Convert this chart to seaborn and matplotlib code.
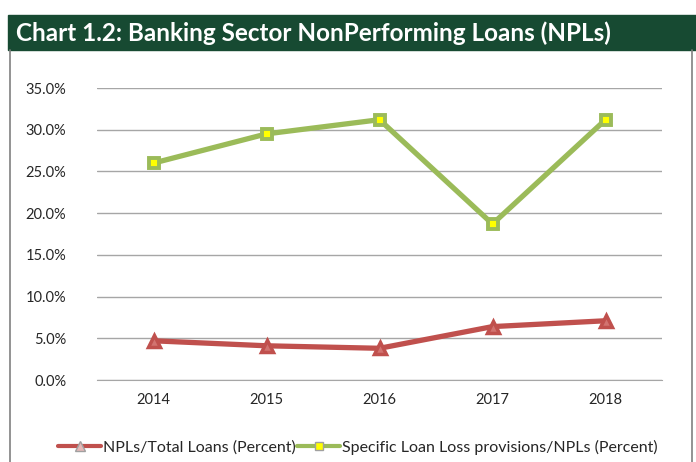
import matplotlib
matplotlib.use("Agg")
import matplotlib.pyplot as plt
import seaborn as sns
import pandas as pd
from matplotlib.patches import Rectangle
from matplotlib.lines import Line2D
from matplotlib.ticker import FuncFormatter

# Data (percent)
years = ["2014", "2015", "2016", "2017", "2018"]
npl_ratio = [4.7, 4.1, 3.8, 6.4, 7.1]
provisions_ratio = [26.0, 29.5, 31.2, 18.7, 31.2]

npl_label = "NPLs/Total Loans (Percent)"
prov_label = "Specific Loan Loss provisions/NPLs (Percent)"

red = "#c0504d"
green = "#9bbb59"

sns.set_style("white")
plt.rcParams["font.family"] = ["Lato", "DejaVu Sans"]

W, H = 696, 462
fig = plt.figure(figsize=(W / 100, H / 100), dpi=100)


def fx(px):
    return px / W


def fy(py):
    return 1 - py / H


# header band and outer frame
fig.patches.append(Rectangle((fx(8), fy(50)), 1 - fx(8), fy(15) - fy(50),
                             transform=fig.transFigure, color="#174a32", zorder=0))
fig.text(fx(16), fy(33), "Chart 1.2: Banking Sector NonPerforming Loans (NPLs)",
         color="white", fontsize=17.5, fontweight="bold", va="center", ha="left")
for xpx in (10, 692):
    fig.add_artist(Line2D([fx(xpx), fx(xpx)], [0, fy(50)], transform=fig.transFigure,
                          color="#808080", lw=1.2))

ax = fig.add_axes([fx(97), fy(380), fx(662) - fx(97), fy(88) - fy(380)])

df = pd.DataFrame({"year": years, "npl": npl_ratio, "prov": provisions_ratio})
df["x"] = range(len(years))

sns.lineplot(data=df, x="x", y="npl", ax=ax, color=red, lw=3.8,
             marker="^", markersize=8.5, markerfacecolor="#d27370",
             markeredgecolor=red, markeredgewidth=2.5, legend=False)
sns.lineplot(data=df, x="x", y="prov", ax=ax, color=green, lw=3.8,
             marker="s", markersize=7.5, markerfacecolor="#ffff00",
             markeredgecolor=green, markeredgewidth=2.8, legend=False)

ax.set_xlim(-0.5, len(years) - 0.5)
ax.set_ylim(0, 35)
ax.set_yticks([0, 5, 10, 15, 20, 25, 30, 35])
ax.yaxis.set_major_formatter(FuncFormatter(lambda v, p: f"{v:.1f}%"))
ax.set_xticks(df["x"])
ax.set_xticklabels(years)
ax.set_xlabel("")
ax.set_ylabel("")
ax.grid(axis="y", color="#a6a6a6", lw=1)
ax.set_axisbelow(True)
for s in ["top", "right", "left"]:
    ax.spines[s].set_visible(False)
ax.spines["bottom"].set_color("#a6a6a6")
ax.tick_params(axis="both", length=0, labelsize=10.5, colors="#262626")
ax.tick_params(axis="y", pad=22)
ax.tick_params(axis="x", pad=9)

handles = [
    Line2D([], [], color=red, lw=3, marker="^", markersize=6.5,
           markerfacecolor="#e6b9b8", markeredgecolor="#a0a0a0", markeredgewidth=1),
    Line2D([], [], color=green, lw=3, marker="s", markersize=6,
           markerfacecolor="#ffff00", markeredgecolor="#a0a0a0", markeredgewidth=1),
]
fig.legend(handles, [npl_label, prov_label], loc="center",
           bbox_to_anchor=(fx(358), fy(447)), ncol=2, frameon=False, fontsize=11.5,
           handlelength=2.7, columnspacing=0.1, handletextpad=0.1, borderaxespad=0)

fig.savefig("out.png", dpi=100)
